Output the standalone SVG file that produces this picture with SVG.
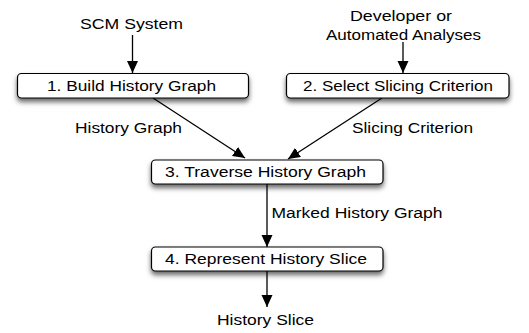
<svg xmlns="http://www.w3.org/2000/svg" width="529" height="333" viewBox="0 0 529 333">
<style>
text{font-family:"Liberation Sans",Arial,sans-serif;font-size:15.5px;fill:#000}
.box{fill:#fff;stroke:#000;stroke-width:1.2;filter:url(#sh)}
.c{stroke:#000;stroke-width:1.3;fill:none;marker-end:url(#ah)}
</style>
<defs>
<filter id="sh" x="-10%" y="-40%" width="120%" height="200%">
<feDropShadow dx="0" dy="3.5" stdDeviation="2.5" flood-color="#000" flood-opacity="0.6"/>
</filter>
<marker id="ah" markerUnits="userSpaceOnUse" markerWidth="14" markerHeight="12" refX="12" refY="5.5" orient="auto">
<path d="M0,0 L12,5.5 L0,11 Z" fill="#000"/>
</marker>
</defs>
<rect width="529" height="333" fill="#fff"/>
<g id="connectors">
<line class="c" x1="132.5" y1="35" x2="132.5" y2="73"/>
<line class="c" x1="403" y1="42" x2="403" y2="73"/>
<line class="c" x1="153" y1="98" x2="245" y2="158"/>
<line class="c" x1="382" y1="98" x2="288" y2="159"/>
<line class="c" x1="267" y1="184" x2="267" y2="247"/>
<line class="c" x1="267" y1="271" x2="267" y2="307"/>
</g>
<g id="src-scm"><text x="131.5" y="29" text-anchor="middle" textLength="103" lengthAdjust="spacingAndGlyphs">SCM System</text></g>
<g id="src-dev">
<text x="401" y="21" text-anchor="middle" textLength="102" lengthAdjust="spacingAndGlyphs">Developer or</text>
<text x="403.5" y="39.5" text-anchor="middle" textLength="155" lengthAdjust="spacingAndGlyphs">Automated Analyses</text>
</g>
<g id="n1"><rect class="box" x="17.5" y="73.5" width="231" height="24.5" rx="4"/>
<text x="131.5" y="90.7" text-anchor="middle" textLength="169" lengthAdjust="spacingAndGlyphs">1. Build History Graph</text></g>
<g id="n2"><rect class="box" x="286.5" y="73.5" width="222.5" height="24.5" rx="4"/>
<text x="398" y="90.7" text-anchor="middle" textLength="190" lengthAdjust="spacingAndGlyphs">2. Select Slicing Criterion</text></g>
<g id="lbl-hg"><text x="128.5" y="133.3" text-anchor="middle" textLength="107" lengthAdjust="spacingAndGlyphs">History Graph</text></g>
<g id="lbl-sc"><text x="412.5" y="133.3" text-anchor="middle" textLength="121" lengthAdjust="spacingAndGlyphs">Slicing Criterion</text></g>
<g id="n3"><rect class="box" x="151.5" y="160" width="231.5" height="24" rx="4"/>
<text x="265.5" y="177.3" text-anchor="middle" textLength="201" lengthAdjust="spacingAndGlyphs">3. Traverse History Graph</text></g>
<g id="lbl-mhg"><text x="271.5" y="218.3" textLength="171" lengthAdjust="spacingAndGlyphs">Marked History Graph</text></g>
<g id="n4"><rect class="box" x="151.5" y="247" width="231.5" height="24" rx="4"/>
<text x="266" y="264" text-anchor="middle" textLength="202" lengthAdjust="spacingAndGlyphs">4. Represent History Slice</text></g>
<g id="out"><text x="265.5" y="325" text-anchor="middle" textLength="97" lengthAdjust="spacingAndGlyphs">History Slice</text></g>
</svg>
